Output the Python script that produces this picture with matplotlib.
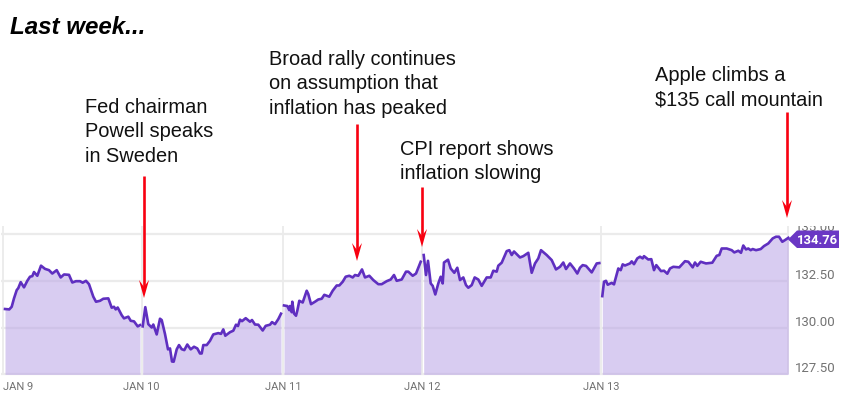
import matplotlib
matplotlib.use("Agg")
import matplotlib.pyplot as plt
from matplotlib.patches import Polygon, Rectangle

jan9_t = [5,9.3,11.7,14,16.7,18.3,20.7,24,27.3,30,32.3,34,37.3,41,45,49,52.3,56.7,60.7,64,69,72.3,76,80,82.7,86,89,93.3,96,100,103.3,108.3,111.7,114,115.7,117.7,121.7,124,128.3,130.7,134,137.7,140]
jan9_p = [131.00,130.98,131.12,131.57,132.01,132.12,132.44,132.16,132.51,132.73,132.76,132.98,132.78,133.32,133.15,133.08,132.90,133.08,132.69,132.85,132.83,132.42,132.49,132.49,132.41,132.51,132.33,131.66,131.39,131.44,131.55,131.57,131.07,131.12,130.98,131.08,130.67,130.50,130.59,130.37,130.34,130.07,130.14]

jan10_t = [142.7,145.3,148.3,151.7,153.3,156.7,160,161.7,165,168,170,172,173.7,176.7,179,181.7,184.3,187.3,190.7,194,197.3,200,201.7,203.3,206.7,210,213.3,218.3,221,223.3,225.3,230,233.3,236,238,240,242,245.7,250,252,255,258.3,262.7,265.7,270,272,275,278.3,281]
jan10_p = [130.07,131.10,130.19,130.01,130.17,129.64,130.48,130.41,129.66,128.84,128.89,128.19,128.18,128.84,129.07,128.85,128.80,129.10,128.84,128.98,128.89,128.62,128.62,129.07,129.07,129.30,129.64,129.71,129.67,129.91,129.57,129.76,129.84,130.16,130.09,130.43,130.35,130.51,130.32,130.41,130.17,130.16,129.85,130.10,130.16,130.30,130.19,130.46,130.75]

jan11_t = [284,287.3,289.3,290,291.7,292.3,294,296,297.3,299.3,302.7,306.7,308.3,311,315,318.3,321.7,324.3,329.3,332.7,336.7,339.3,342.7,345.7,349.3,352.7,355,358.3,362,365,369.3,373.3,378.3,381.7,386.7,390.7,394,396.7,401.7,406,408.3,412.7,416,420.7]
jan11_p = [131.19,131.16,130.94,131.16,130.83,131.39,130.76,130.64,130.91,131.44,131.35,131.98,131.80,131.26,131.39,131.51,131.55,131.76,131.66,131.98,132.26,132.26,132.46,132.73,132.78,132.69,132.82,132.78,133.12,132.69,132.78,132.55,132.33,132.33,132.49,132.58,132.82,132.51,132.58,133.00,133.00,132.78,132.90,133.53]

jan12_t = [423.7,426,428,430.7,432.7,435.3,438.3,440.7,442.7,444,448,450.7,454.3,457.3,460,463.3,466,468.3,471.7,474.7,478.3,481.7,486.7,490.7,493.3,496.7,498.3,501.7,506.7,509.3,511.7,514,520,523.3,528.3,531.7,535,538.3,541,546.7,551.7,556,560,563.3,566,570,574,577.3,580,582.7,586,588.3,591.7,596.7,599.3]
jan12_p = [133.89,132.82,133.58,132.37,132.24,131.78,132.37,132.73,132.37,133.49,133.64,133.17,132.94,133.21,132.55,132.69,132.28,132.14,132.28,132.69,132.58,132.24,132.69,132.69,133.05,133.00,133.32,133.48,134.10,134.15,133.89,134.08,133.76,133.83,134.01,132.94,133.44,133.71,134.15,133.89,133.62,133.12,133.26,133.49,133.14,133.44,133.17,132.90,133.21,133.35,133.31,133.17,132.96,133.44,133.46]

jan13_t = [602.3,604,606,607.7,611.7,614,618.3,620.7,622.7,625,630,631.7,634,637.3,640,642.7,644,648.3,651.3,654,656.3,661,664,667.3,670,673.3,679.3,685,688.3,692.7,695,697.3,700.7,706,712.3,716.7,719.3,721.7,726.7,731.7,734.3,738.3,741,743.3,746,748.3,750.7,752.7,756,760.7,764,768.3,772.7,776,779,782.3,785,788.3]
jan13_p = [131.69,132.46,132.51,132.30,132.40,132.32,133.17,133.08,133.39,133.33,133.44,133.55,133.40,133.71,133.80,133.71,133.83,133.65,133.67,133.08,133.35,133.03,133.05,132.89,133.17,133.26,133.23,133.56,133.53,133.23,133.49,133.31,133.53,133.44,133.48,133.85,133.89,134.24,134.24,134.15,134.03,134.12,134.01,134.40,134.19,134.24,134.15,134.21,134.15,134.21,134.37,134.51,134.78,134.87,134.87,134.60,134.69,134.81]

sessions = [(jan9_t, jan9_p), (jan10_t, jan10_p), (jan11_t, jan11_p), (jan12_t, jan12_p), (jan13_t, jan13_p)]

y_ticks = [127.5, 130.0, 132.5, 135.0]
y_labels = ["127.50", "130.00", "132.50", "135.00"]
day_ticks = [3, 141.5, 283, 422, 601]
day_labels = ["JAN 9", "JAN 10", "JAN 11", "JAN 12", "JAN 13"]
last_price = "134.76"

title = "Last week..."
notes = ["Fed chairman\nPowell speaks\nin Sweden",
         "Broad rally continues\non assumption that\ninflation has peaked",
         "CPI report shows\ninflation slowing",
         "Apple climbs a\n$135 call mountain"]

PURPLE = "#5f2fc0"
GRID = "#ebebeb"
LABEL = "#727272"
RED = "#f80010"

fig = plt.figure(figsize=(8.42, 4.0), dpi=100, facecolor="white")
ax = fig.add_axes([0, 0, 1, 1])
ax.set_xlim(0, 842)
ax.set_ylim(130 - 72.3 / 18.68, 130 + 327.7 / 18.68)
ax.axis("off")

px = fig.add_axes([0, 0, 1, 1], facecolor="none")
px.set_xlim(0, 842)
px.set_ylim(400, 0)
px.axis("off")

for v in y_ticks:
    ax.plot([1, 788], [v, v], color=GRID, lw=1.6, zorder=1, solid_capstyle="butt")
for d in day_ticks + [788]:
    ax.plot([d, d], [127.5, 135.45], color=GRID, lw=1.3, zorder=1, solid_capstyle="butt")

for t, p in sessions:
    ax.fill_between(t, p, 127.5, color="#b9a2e6", alpha=0.55, lw=0, zorder=2)
    ax.plot(t, p, color=PURPLE, lw=1.9, zorder=3, solid_joinstyle="round")

for v, s in zip(y_ticks, y_labels):
    y = 369 - (v - 127.5) * 18.68
    if v == 135.0:
        y -= 1.5
    tx = px.text(795, y, s, family="Roboto", fontsize=9.5,
                 color=LABEL, va="center", ha="left")
    if v == 135.0:
        tx.set_clip_path(Rectangle((790, 225.5), 50, 6, transform=px.transData))
        tx.set_clip_on(True)
for d, s in zip(day_ticks, day_labels):
    ha = "left" if s == "JAN 9" else "center"
    px.text(d, 387, s, family="Roboto", fontsize=8.0, color=LABEL, va="center", ha=ha)

px.add_patch(Polygon([(788, 239.5), (797, 230.5), (839, 230.5), (839, 248), (797, 248)],
                     closed=True, fc="#6a37c4", ec="none", zorder=5))
px.text(818, 240, last_price, family="Roboto", fontsize=9.4, fontweight="bold",
        color="white", va="center", ha="center", zorder=6)


def red_arrow(x, y0, y1):
    px.plot([x, x], [y0, y1 - 8], color=RED, lw=1.9, zorder=7, solid_capstyle="butt")
    px.add_patch(Polygon([(x, y1), (x - 5, y1 - 18), (x, y1 - 11), (x + 5, y1 - 18)],
                         closed=True, fc=RED, ec="none", zorder=7))


red_arrow(144, 176, 298)
red_arrow(357, 124, 261)
red_arrow(422, 187, 247)
red_arrow(787, 112, 218)

px.text(10, 28, title, family="Liberation Sans", fontsize=17.4, fontweight="bold",
        fontstyle="italic", color="black", va="center", ha="left")
note_pos = [(85, 98), (269, 50), (400, 140), (655, 66)]
for (x, y), s in zip(note_pos, notes):
    px.text(x, y, s, family="Liberation Sans", fontsize=14.4, color="#111111",
            va="top", ha="left", linespacing=1.36)

fig.savefig("out.png", dpi=100)
